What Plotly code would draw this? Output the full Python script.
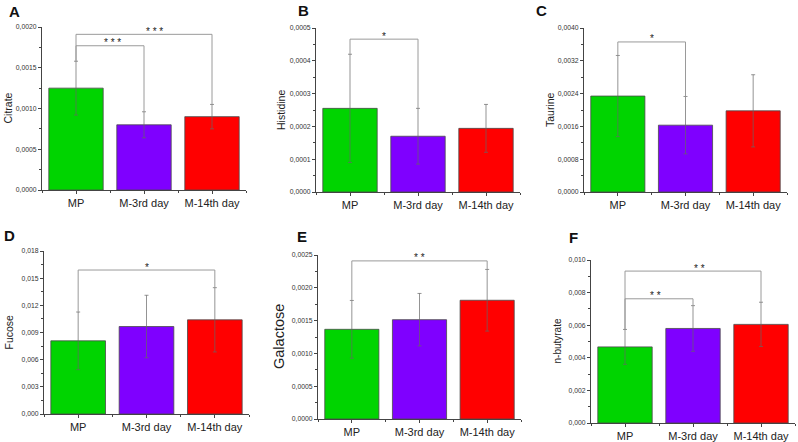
import plotly.graph_objects as go

W, H = 798, 442

categories = ["MP", "M-3rd day", "M-14th day"]
bar_colors = ["#00D400", "#7F00FF", "#FF0000"]

panel_letters = ["A", "B", "C", "D", "E", "F"]
y_titles = ["Citrate", "Histidine", "Taurine", "Fucose", "Galactose", "n-butyrate"]

citrate = [0.00125, 0.00080, 0.00090]
citrate_err = [0.00033, 0.00016, 0.00015]
histidine = [0.000255, 0.000170, 0.000194]
histidine_err = [0.000165, 0.000085, 0.000073]
taurine = [0.00234, 0.00163, 0.00198]
taurine_err = [0.00099, 0.00070, 0.00088]
fucose = [0.00808, 0.00966, 0.01040]
fucose_err = [0.00318, 0.00345, 0.00355]
galactose = [0.001367, 0.001514, 0.00181]
galactose_err = [0.00044, 0.00040, 0.00047]
butyrate = [0.00467, 0.00580, 0.00605]
butyrate_err = [0.00107, 0.00140, 0.00136]

values = [citrate, histidine, taurine, fucose, galactose, butyrate]
errors = [citrate_err, histidine_err, taurine_err, fucose_err, galactose_err, butyrate_err]

y_max = [0.0020, 0.0005, 0.0040, 0.018, 0.0025, 0.010]
y_dtick = [0.0005, 0.0001, 0.0008, 0.003, 0.0005, 0.002]
y_fmt = [".4f", ".4f", ".4f", ".3f", ".4f", ".3f"]

# significance brackets: (panel, from, to, height, label, label x)
brackets = [
    (0, 0, 1, 0.00177, "* * *", 0.53),
    (0, 0, 2, 0.00191, "* * *", 1.15),
    (1, 0, 1, 0.000466, "*", 0.5),
    (2, 0, 1, 0.00366, "*", 0.5),
    (3, 0, 2, 0.0159, "*", 1.0),
    (4, 0, 2, 0.00241, "* *", 1.0),
    (5, 0, 1, 0.00762, "* *", 0.45),
    (5, 0, 2, 0.00932, "* *", 1.1),
]

# panel boxes in pixels: (left, right, top, bottom)
boxes = [
    (42, 246, 27, 190),
    (316, 520, 28, 192),
    (584, 787, 28, 192),
    (44, 249, 251, 414),
    (318, 521, 255, 419),
    (591, 795, 260, 423),
]
letter_pos = [(14, 11), (303, 10), (541, 10), (9, 235), (302, 236), (573, 237)]
title_x = [7, 281, 550, 8, 279, 557]
title_size = [10.5, 10.5, 10.5, 10.5, 14.5, 10]

fig = go.Figure()
xpos = list(range(len(categories)))

for p in range(6):
    xa = "x" if p == 0 else f"x{p+1}"
    ya = "y" if p == 0 else f"y{p+1}"
    fig.add_trace(go.Bar(
        x=xpos, y=values[p], xaxis=xa, yaxis=ya,
        marker=dict(color=bar_colors, line=dict(color="#4a4a4a", width=0.8)),
        error_y=dict(type="data", array=errors[p], color="#666666", thickness=0.7, width=2),
        showlegend=False, width=0.8,
    ))
    l, r, t, b = boxes[p]
    ax_common = dict(showline=True, linecolor="#444444", linewidth=1, showgrid=False,
                     zeroline=False, ticks="outside", ticklen=3, tickcolor="#444444",
                     automargin=False)
    fig.layout[("xaxis" if p == 0 else f"xaxis{p+1}")] = dict(
        domain=[l / W, r / W], anchor=ya, range=[-0.5, 2.5],
        tickvals=xpos, ticktext=categories,
        tickfont=dict(family="Liberation Sans", size=11, color="#222222"),
        minor=dict(tick0=0.5, dtick=1, ticks="outside", ticklen=2, tickcolor="#444444"),
        **ax_common)
    fig.layout[("yaxis" if p == 0 else f"yaxis{p+1}")] = dict(
        domain=[1 - b / H, 1 - t / H], anchor=xa, range=[0, y_max[p]],
        dtick=y_dtick[p], tick0=0, tickformat=y_fmt[p],
        tickfont=dict(family="Liberation Sans", size=6.8, color="#333333"),
        minor=dict(dtick=y_dtick[p] / 2, ticks="outside", ticklen=2, tickcolor="#444444"),
        **ax_common)
    fig.add_annotation(x=letter_pos[p][0] / W, y=1 - letter_pos[p][1] / H, xref="paper", yref="paper",
                       xanchor="center", yanchor="middle",
                       text=f"<b>{panel_letters[p]}</b>", showarrow=False,
                       font=dict(family="Liberation Sans", size=15, color="#111111"))
    fig.add_annotation(x=title_x[p] / W, y=1 - (t + b) / 2 / H, xref="paper", yref="paper",
                       xanchor="center", yanchor="middle",
                       text=y_titles[p], textangle=-90, showarrow=False,
                       font=dict(family="Liberation Sans", size=title_size[p], color="#222222"))

for (p, i, j, h, lab, lx) in brackets:
    xa = "x" if p == 0 else f"x{p+1}"
    ya = "y" if p == 0 else f"y{p+1}"
    yi = values[p][i] + errors[p][i]
    yj = values[p][j] + errors[p][j]
    fig.add_trace(go.Scatter(
        x=[i, i, j, j], y=[yi, h, h, yj], xaxis=xa, yaxis=ya, mode="lines",
        line=dict(color="#9a9a9a", width=1), showlegend=False, hoverinfo="skip",
    ))
    fig.add_annotation(x=lx, y=h, xref=xa, yref=ya, text=lab, showarrow=False,
                       xanchor="center", yanchor="middle",
                       yshift=3, font=dict(family="Liberation Sans", size=10, color="#222222"))

fig.update_layout(
    width=W, height=H, margin=dict(l=0, r=0, t=0, b=0, pad=0, autoexpand=False),
    paper_bgcolor="white", plot_bgcolor="white",
    separators=",.", bargap=0.2,
)

fig.write_html("out.html", post_script="document.body.style.margin='0';",
               config={"displayModeBar": False})
